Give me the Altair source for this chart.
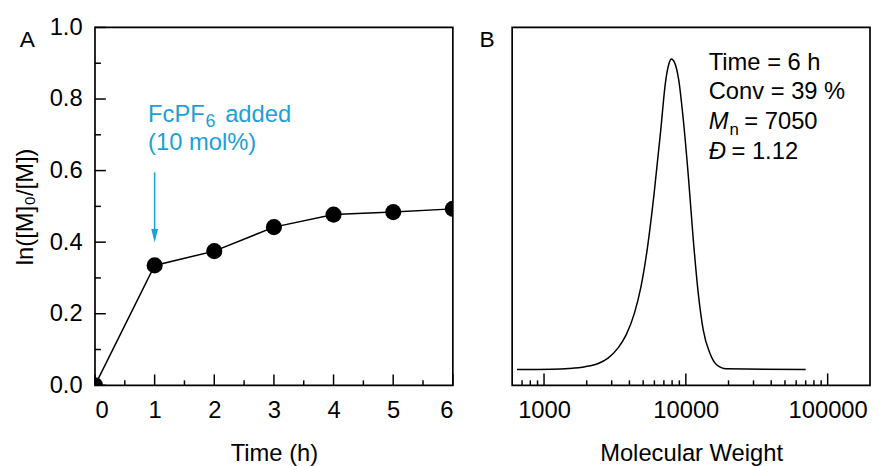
import altair as alt
import pandas as pd

FONT = "Liberation Sans"
BLUE = "#1ba1d9"
FS = 24
W = H = 362

# ---------------- Panel A data ----------------
time_h = [0, 1, 2, 3, 4, 5, 6]
ln_ratio = [0.0, 0.335, 0.375, 0.442, 0.477, 0.484, 0.493]
time_major = [0, 1, 2, 3, 4, 5, 6]
time_minor = [0.5, 1.5, 2.5, 3.5, 4.5, 5.5]
ln_major = [0.0, 0.2, 0.4, 0.6, 0.8, 1.0]
ln_minor = [0.1, 0.3, 0.5, 0.7, 0.9]

note_x = [0.89]
note_line1_y = [0.735]
note_line2_y = [0.657]
note_words = ["FcPF", "6", "added", "(10 mol%)"]
arrow_x = [1]
arrow_top = [0.595]
arrow_end = [0.43]
arrow_tip = [0.418]

# ---------------- Panel B data ----------------
mw = [645, 1142, 1493, 1947, 2410, 2827, 3318, 3793, 4335, 4823, 5362, 5962,
      6634, 7180, 7580, 7910, 8300, 8895, 9635, 10440, 11300, 12240, 13260,
      14760, 16410, 19260, 69960]
intensity = [0.044, 0.045, 0.047, 0.052, 0.061, 0.076, 0.104, 0.141, 0.201,
             0.275, 0.385, 0.533, 0.708, 0.846, 0.897, 0.912, 0.903, 0.855,
             0.735, 0.579, 0.404, 0.256, 0.155, 0.090, 0.058, 0.046, 0.044]
mw_major = [1000, 10000, 100000]
mw_minor = [700, 800, 900, 2000, 3000, 4000, 5000, 6000, 7000, 8000, 9000,
            20000, 30000, 40000, 50000, 60000, 70000, 80000, 90000]
info_x = [14500]
info_plain = ["Time = 6 h", "Conv = 39 %"]
info_plain_y = [0.882, 0.799]
info_italic = ["M", "Đ"]
info_italic_y = [0.716, 0.633]
info_mn_value = ["= 7050"]
info_d_value = ["= 1.12"]

panel_letters = ["A", "B"]

# ---------------- scales ----------------
scale_t = alt.Scale(domain=[0, 6], nice=False, zero=False)
scale_ln = alt.Scale(domain=[0, 1], nice=False, zero=False)
scale_mw = alt.Scale(type="log", domain=[596, 198900], nice=False)
scale_int = alt.Scale(domain=[0, 1], nice=False, zero=False)


def xticks(values, scale, length):
    df = pd.DataFrame({"v": values})
    return alt.Chart(df).mark_rule(color="black", strokeWidth=1.5).encode(
        x=alt.X("v:Q", scale=scale, axis=None),
        y=alt.value(H), y2=alt.value(H - length),
    )


def yticks(values, scale, length):
    df = pd.DataFrame({"v": values})
    return alt.Chart(df).mark_rule(color="black", strokeWidth=1.5).encode(
        y=alt.Y("v:Q", scale=scale, axis=None),
        x=alt.value(0), x2=alt.value(length),
    )


def txt(df, xscale, yscale, **kw):
    return alt.Chart(df).mark_text(align="left", baseline="alphabetic", font=FONT, **kw).encode(
        x=alt.X("x:Q", scale=xscale, axis=None),
        y=alt.Y("y:Q", scale=yscale, axis=None),
        text="s:N",
    )


def letter(s, dx):
    df = pd.DataFrame({"s": [s]})
    return alt.Chart(df).mark_text(align="left", baseline="alphabetic", font=FONT,
                                   fontSize=23, color="black").encode(
        x=alt.value(dx), y=alt.value(19.5), text="s:N")


# ---------------- Panel A ----------------
dfA = pd.DataFrame({"t": time_h, "v": ln_ratio})

lineA = alt.Chart(dfA).mark_line(color="black", strokeWidth=1.5, clip=True).encode(
    x=alt.X("t:Q", scale=scale_t,
            axis=alt.Axis(orient="bottom", values=time_major, format="d", ticks=False,
                          labelPadding=14, title="Time (h)", titlePadding=19,
                          domain=False, grid=False)),
    y=alt.Y("v:Q", scale=scale_ln,
            axis=alt.Axis(orient="left", values=ln_major, format=".1f", ticks=False,
                          labelPadding=13, title="ln([M]₀/[M])", titlePadding=12,
                          domain=False, grid=False)),
)
ptsA = alt.Chart(dfA).mark_circle(size=265, color="black", opacity=1, clip=True).encode(
    x=alt.X("t:Q", scale=scale_t, axis=None),
    y=alt.Y("v:Q", scale=scale_ln, axis=None),
)

dfArrow = pd.DataFrame({"x": arrow_x, "y": arrow_top, "y2": arrow_end, "tip": arrow_tip})
arrow_line = alt.Chart(dfArrow).mark_rule(color=BLUE, strokeWidth=1.5).encode(
    x=alt.X("x:Q", scale=scale_t, axis=None),
    y=alt.Y("y:Q", scale=scale_ln, axis=None),
    y2="y2:Q",
)
arrow_head = alt.Chart(dfArrow).mark_point(shape="M-0.5,-1L0.5,-1L0,1Z", size=190,
                                           filled=True, color=BLUE, opacity=1,
                                           strokeWidth=0).encode(
    x=alt.X("x:Q", scale=scale_t, axis=None),
    y=alt.Y("tip:Q", scale=scale_ln, axis=None),
)

df_w1 = pd.DataFrame({"x": note_x, "y": note_line1_y, "s": [note_words[0]]})
df_w2 = pd.DataFrame({"x": note_x, "y": note_line1_y, "s": [note_words[1]]})
df_w3 = pd.DataFrame({"x": note_x, "y": note_line1_y, "s": [note_words[2]]})
df_w4 = pd.DataFrame({"x": note_x, "y": note_line2_y, "s": [note_words[3]]})
t1 = txt(df_w1, scale_t, scale_ln, fontSize=FS, color=BLUE)
t2 = txt(df_w2, scale_t, scale_ln, fontSize=18, color=BLUE, dx=58, dy=5)
t3 = txt(df_w3, scale_t, scale_ln, fontSize=FS, color=BLUE, dx=78)
t4 = txt(df_w4, scale_t, scale_ln, fontSize=FS, color=BLUE)

panelA = alt.layer(
    lineA, ptsA,
    xticks(time_major, scale_t, 11), xticks(time_minor, scale_t, 5),
    yticks(ln_major, scale_ln, 11), yticks(ln_minor, scale_ln, 6),
    arrow_line, arrow_head, t1, t2, t3, t4, letter(panel_letters[0], -76),
).resolve_axis(x="independent", y="independent").properties(width=W, height=H)

# ---------------- Panel B ----------------
dfB = pd.DataFrame({"m": mw, "i": intensity})
lineB = alt.Chart(dfB).mark_line(color="black", strokeWidth=1.5, clip=True,
                                 interpolate="monotone").encode(
    x=alt.X("m:Q", scale=scale_mw,
            axis=alt.Axis(orient="bottom", values=mw_major, format="d", ticks=False,
                          labelPadding=14, title="Molecular Weight", titlePadding=19,
                          domain=False, grid=False)),
    y=alt.Y("i:Q", scale=scale_int, axis=None),
)

df_plain = pd.DataFrame({"x": info_x * 2, "y": info_plain_y, "s": info_plain})
df_ital = pd.DataFrame({"x": info_x * 2, "y": info_italic_y, "s": info_italic})
df_n = pd.DataFrame({"x": info_x, "y": [info_italic_y[0]], "s": ["n"]})
df_mnv = pd.DataFrame({"x": info_x, "y": [info_italic_y[0]], "s": info_mn_value})
df_dv = pd.DataFrame({"x": info_x, "y": [info_italic_y[1]], "s": info_d_value})
b1 = txt(df_plain, scale_mw, scale_int, fontSize=FS, color="black")
b2 = txt(df_ital, scale_mw, scale_int, fontSize=FS, color="black", fontStyle="italic")
b3 = txt(df_n, scale_mw, scale_int, fontSize=17, color="black", dx=21, dy=6)
b4 = txt(df_mnv, scale_mw, scale_int, fontSize=FS, color="black", dx=36)
b5 = txt(df_dv, scale_mw, scale_int, fontSize=FS, color="black", dx=23)

panelB = alt.layer(
    lineB,
    xticks(mw_major, scale_mw, 12), xticks(mw_minor, scale_mw, 5),
    b1, b2, b3, b4, b5, letter(panel_letters[1], -33),
).resolve_axis(x="independent", y="independent").properties(width=W, height=H)

chart = alt.hconcat(panelA, panelB, spacing=60, bounds="flush").properties(
    padding={"left": 4, "top": 4, "right": 0, "bottom": 0}
).configure_view(
    stroke="black", strokeWidth=1.7
).configure_axis(
    labelFont=FONT, titleFont=FONT, labelFontSize=FS, titleFontSize=FS,
    labelColor="black", titleColor="black", titleFontWeight="normal", grid=False
)

chart.save("out.html", embed_options={"renderer": "svg", "actions": False})
